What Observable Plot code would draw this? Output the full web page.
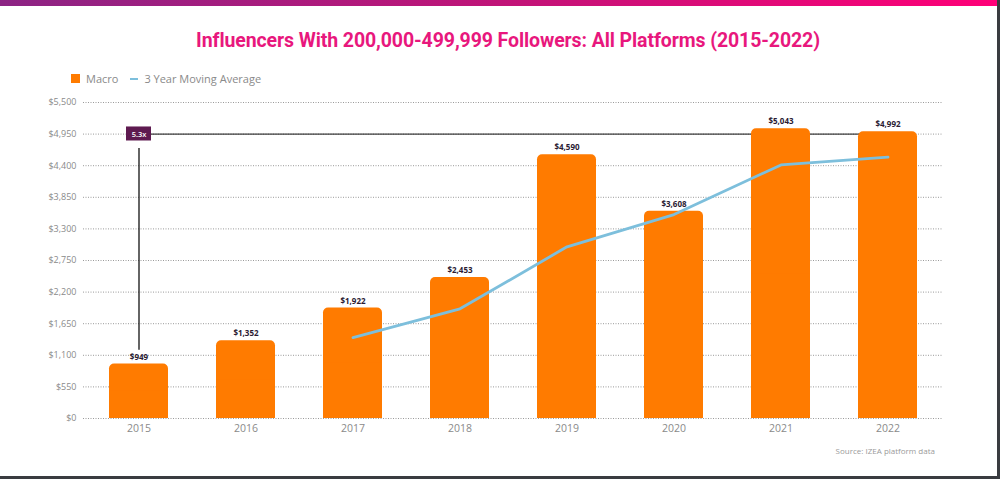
<!DOCTYPE html>
<html>
<head>
<meta charset="utf-8">
<script src="https://cdn.jsdelivr.net/npm/d3@7"></script>
<script src="https://cdn.jsdelivr.net/npm/@observablehq/plot@0.6"></script>
<style>
  html, body { margin: 0; padding: 0; background: #3a3c40; }
  #card { position: absolute; left: 0; top: 0; width: 997px; height: 476px; background: #fff; overflow: hidden; font-family: "Open Sans", sans-serif; }
  #topbar { position: absolute; left: 0; top: 0; width: 997px; height: 6px; background: linear-gradient(to right, #8c2484, #c01478 50%, #ff0078); }
  #title { position: absolute; left: 0; top: 29px; width: 1016px; text-align: center; font-family: Roboto, sans-serif; font-weight: 700; font-size: 19.5px; color: #e8177d; letter-spacing: -0.1px; }
  #legend { position: absolute; left: 71px; top: 71px; font-size: 11px; color: #8a8a8a; display: flex; align-items: center; }
  .sw { display: inline-block; width: 9px; height: 9px; background: #ff7b00; margin-right: 6px; }
  .ln { display: inline-block; width: 8px; height: 2px; background: #7dbfdc; margin-right: 6px; margin-left: 12px; }
  #chart { position: absolute; left: 0; top: 90px; }
  #source { position: absolute; right: 62px; top: 445px; font-size: 8px; color: #9a9a9a; }
</style>
</head>
<body>
<div id="card">
  <div id="topbar"></div>
  <div id="title">Influencers With 200,000-499,999 Followers: All Platforms (2015-2022)</div>
  <div id="legend"><span class="sw"></span>Macro<span class="ln"></span>3 Year Moving Average</div>
  <div id="chart"></div>
  <div id="source">Source: IZEA platform data</div>
</div>
<script>
const years = ["2015", "2016", "2017", "2018", "2019", "2020", "2021", "2022"];
const macro = [949, 1352, 1922, 2453, 4590, 3608, 5043, 4992];
const maYears = ["2017", "2018", "2019", "2020", "2021", "2022"];
const movingAvg = [1408, 1909, 2988, 3550, 4414, 4548];
const yTicks = [0, 550, 1100, 1650, 2200, 2750, 3300, 3850, 4400, 4950, 5500];
const annotationLabel = "5.3x";
const annotationLevel = 4950;
const annotationFrom = "2015";
const annotationTo = "2022";
const annotationStemTop = 4700;
const annotationStemBottom = 1190;
const annotationBox = [4830, 5074];

const bars = years.map((y, i) => ({year: y, value: macro[i]}));
const ma = maYears.map((y, i) => ({year: y, value: movingAvg[i]}));
const fmt = d => "$" + d3.format(",")(d);

const chart = Plot.plot({
  width: 997,
  height: 350,
  marginLeft: 83,
  marginRight: 55,
  marginTop: 12,
  marginBottom: 22,
  style: {fontFamily: "'Open Sans', sans-serif", fontSize: "9px", color: "#8a8a8a", background: "transparent"},
  x: {domain: years, paddingInner: 0.45, paddingOuter: 0.23, label: null, axis: null},
  y: {domain: [0, 5500], ticks: yTicks, tickFormat: fmt, label: null, tickSize: 0, tickPadding: 7},
  marks: [
    Plot.axisX({tickSize: 0, tickPadding: 6, fontSize: 10.5, label: null}),
    Plot.ruleY(yTicks, {stroke: "#9a9a9a", strokeDasharray: "1,1.5", strokeWidth: 1}),
    Plot.line([{year: annotationFrom, value: annotationLevel}, {year: annotationTo, value: annotationLevel}], {x: "year", y: "value", stroke: "#111", strokeWidth: 1}),
    Plot.ruleX([annotationFrom], {y1: annotationStemBottom, y2: annotationStemTop, stroke: "#111", strokeWidth: 1.3}),
    Plot.barY(bars, {x: "year", y: "value", fill: "#ff7b00", rx: 5}),
    Plot.barY(bars, {x: "year", y1: 0, y2: d => d.value / 2, fill: "#ff7b00"}),
    Plot.text(bars, {x: "year", y: "value", text: d => fmt(d.value), dy: -7, fontSize: 8, fontWeight: 700, fill: "#2b1b33"}),
    Plot.line(ma, {x: "year", y: "value", stroke: "#7dbfdc", strokeWidth: 2.8}),
    Plot.barY([{year: annotationFrom}], {x: "year", y1: annotationBox[0], y2: annotationBox[1], fill: "#5e1a50", insetLeft: 17, insetRight: 17}),
    Plot.text([{year: annotationFrom}], {x: "year", y: annotationLevel, text: () => annotationLabel, fill: "#fff", fontSize: 7.5, fontWeight: 600})
  ]
});
document.getElementById("chart").appendChild(chart);
</script>
</body>
</html>
